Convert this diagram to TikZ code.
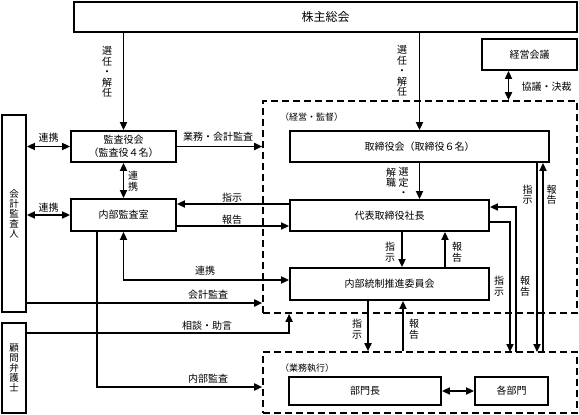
\documentclass[tikz,border=0pt]{standalone}
\usepackage{fontspec}
\setmainfont{Noto Sans CJK JP}
\usetikzlibrary{arrows.meta,calc}
\begin{document}
\begin{tikzpicture}[x=1pt,y=-1pt,
  box/.style={draw, line width=1.8pt, inner sep=0pt, font=\fontsize{10}{12.5}\selectfont, align=center},
  vbox/.style={draw, line width=1.8pt, inner sep=0pt, font=\fontsize{9.5}{10}\selectfont, align=center},
  region/.style={draw, dash pattern=on 7pt off 4pt, line width=1.6pt, inner sep=0pt},
  arr/.style={line width=1.7pt, -{Triangle[length=8pt,width=7pt]}},
  darr/.style={line width=1.7pt, {Triangle[length=8pt,width=7pt]}-{Triangle[length=8pt,width=7pt]}},
  lbl/.style={font=\fontsize{10}{10.5}\selectfont, inner sep=0pt, align=center},
  rlbl/.style={font=\fontsize{9}{10}\selectfont, inner sep=0pt, anchor=west},
]
\useasboundingbox (0,0) rectangle (579,415);

% dashed regions
\node[region, minimum width=314pt, minimum height=212pt] (reg1) at (420,207) {};
\node[region, minimum width=314pt, minimum height=61pt] (reg2) at (420,382.5) {};
\node[rlbl] (reg1lbl) at (280,117) {（経営・監督）};
\node[rlbl] (reg2lbl) at (280,368) {（業務執行）};

% boxes
\node[box, minimum width=503pt, minimum height=30pt, font=\fontsize{12}{14}\selectfont] (kabu) at (325.5,17) {株主総会};
\node[box, minimum width=95pt, minimum height=31pt] (keiei) at (529.5,54.5) {経営会議};
\node[box, minimum width=105pt, minimum height=31pt] (kansa) at (123.5,146.5) {監査役会\\（監査役４名）};
\node[box, minimum width=105pt, minimum height=32pt] (naibu) at (123.5,215) {内部監査室};
\node[vbox, minimum width=24pt, minimum height=197pt] (kaikei) at (14,213.5) {会\\計\\監\\査\\人};
\node[vbox, minimum width=24pt, minimum height=90pt] (komon) at (14,368) {顧\\問\\弁\\護\\士};
\node[box, minimum width=259pt, minimum height=31pt] (torishimari) at (419.5,146.5) {取締役会（取締役６名）};
\node[box, minimum width=199pt, minimum height=31pt] (shacho) at (389.5,215.5) {代表取締役社長};
\node[box, minimum width=199pt, minimum height=32pt] (naitou) at (389.5,284) {内部統制推進委員会};
\node[box, minimum width=152pt, minimum height=28pt] (bumoncho) at (365,391) {部門長};
\node[box, minimum width=73pt, minimum height=28pt] (kakubumon) at (511.5,391) {各部門};

\coordinate (pA) at (510,352);
\coordinate (pB) at (516,352);
\coordinate (pC) at (537,352);
\coordinate (pD) at (543,352);

% connectors
\draw[arr] (kabu.south -| kansa.north) -- (kansa.north);
\node[lbl] (l1) at (107,72) {選\\任\\・\\解\\任};
\draw[arr] (kabu.south -| torishimari.north) -- (torishimari.north);
\node[lbl] (l2) at (402,71) {選\\任\\・\\解\\任};
\draw[darr] ([xshift=-21pt]keiei.south) -- ([xshift=-21pt]keiei.south |- reg1.north);
\node[lbl] (l3) at (546.5,86.5) {協議・決裁};

\draw[darr] (kansa.west) -- (kansa.west -| kaikei.east);
\node[lbl] (l4) at (48.5,137.5) {連携};
\draw[arr] (kansa.east) -- (kansa.east -| reg1.west);
\node[lbl] (l5) at (218,137) {業務・会計監査};
\draw[darr] (kansa.south) -- (naibu.north);
\node[lbl] (l6) at (133,181) {連\\携};
\draw[darr] (naibu.west) -- (naibu.west -| kaikei.east);
\node[lbl] (l7) at (48.5,207.5) {連携};

\draw[arr] ([yshift=11.5pt]shacho.west) -- ([yshift=11.5pt]shacho.west -| naibu.east);
\node[lbl] (l8) at (232,198) {指示};
\draw[arr] ([yshift=-11pt]naibu.east) -- ([yshift=-11pt]naibu.east -| shacho.west);
\node[lbl] (l9) at (232,219.5) {報告};
\draw[darr] (naibu.south) |- ([yshift=4pt]naitou.west);
\node[lbl] (l10) at (205,271) {連携};
\draw[arr] ([yshift=-89.5pt]kaikei.east) -- ([yshift=-89.5pt]kaikei.east -| reg1.west);
\node[lbl] (l11) at (208,295) {会計監査};
\draw[arr] ([yshift=35pt]komon.east) -| (reg1.south -| naitou.west);
\node[lbl] (l12) at (207,326) {相談・助言};
\draw[arr] ([xshift=-26.5pt]naibu.south) |- ([yshift=-4.5pt]reg2.west);
\node[lbl] (l13) at (208,379) {内部監査};

\draw[arr] (torishimari.south) -- (torishimari.south |- shacho.north);
\node[lbl, anchor=north] (l14a) at (403.5,167.5) {選\\定\\・};
\node[lbl, anchor=north] (l14b) at (391,167.5) {解\\職};
\draw[arr] ([xshift=12.5pt]shacho.south) -- ([xshift=12.5pt]shacho.south |- naitou.north);
\node[lbl] (l15) at (390,252) {指\\示};
\draw[arr] ([xshift=55.5pt]naitou.north) -- ([xshift=55.5pt]naitou.north |- shacho.south);
\node[lbl] (l16) at (457,252) {報\\告};
\draw[arr] ([xshift=-21.5pt]naitou.south) -- ([xshift=-21.5pt]naitou.south |- reg2.north);
\node[lbl] (l17) at (357,329) {指\\示};
\draw[arr] ([xshift=13.5pt]naitou.south |- reg2.north) -- ([xshift=13.5pt]naitou.south);
\node[lbl] (l18) at (414,329) {報\\告};

\draw[arr] ([yshift=-6.5pt]shacho.east) -| (pA);
\node[lbl] (l19) at (499,286) {指\\示};
\draw[arr] (pB) |- ([yshift=8.5pt]shacho.east);
\node[lbl] (l20) at (525,286) {報\\告};
\draw[arr] (pC |- torishimari.south) -- (pC);
\node[lbl] (l21) at (527.5,194.5) {指\\示};
\draw[arr] (pD) -- (pD |- torishimari.south);
\node[lbl] (l22) at (551.5,194.5) {報\\告};

\draw[darr] (bumoncho.east) -- (kakubumon.west);
\end{tikzpicture}
\end{document}
